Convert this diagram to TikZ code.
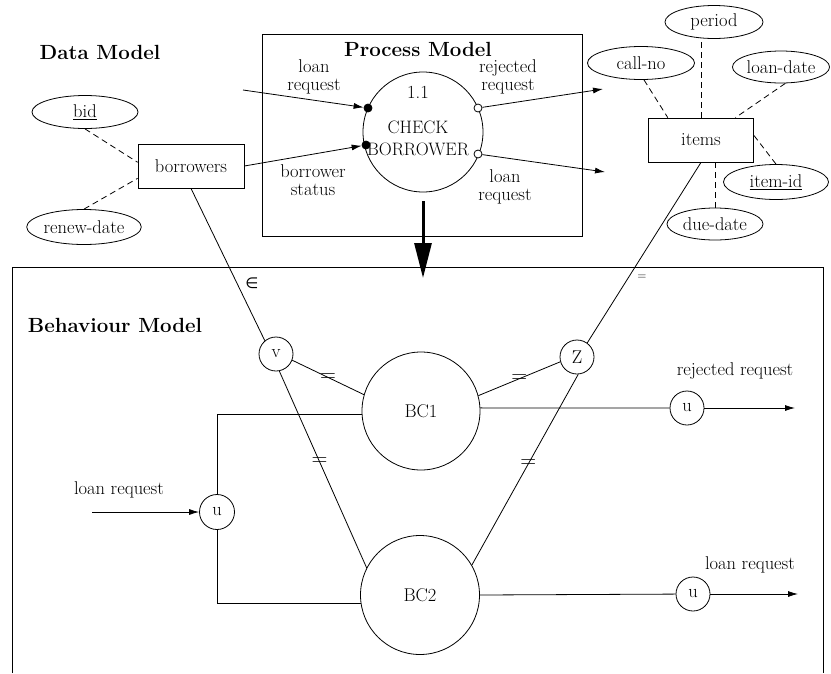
\documentclass[tikz,border=0pt]{standalone}
\usepackage{fontspec}
\newfontfamily\symfnt{DejaVu Sans}
\usetikzlibrary{arrows.meta,shapes.geometric,calc}
\begin{document}
\begin{tikzpicture}[x=1pt,y=-1pt, line width=0.8pt,
  every node/.style={font=\fontsize{18.5}{17.5}\selectfont, inner sep=0pt},
  title/.style={font=\fontsize{20.5}{24}\selectfont\bfseries},
  ent/.style={draw, rectangle, minimum width=106pt, minimum height=44pt},
  attr/.style={draw, ellipse},
  bcirc/.style={draw, circle},
  small/.style={draw, circle, minimum size=34pt},
  dotf/.style={draw, circle, fill=black, minimum size=8pt},
  doto/.style={draw, circle, fill=white, minimum size=8pt},
  arr/.style={-{Latex[length=10pt,width=6pt]}},
  attrline/.style={dash pattern=on 6pt off 4pt},
  eqt/.style={font=\fontsize{22}{22}\selectfont}]
\useasboundingbox (0,0) rectangle (831,673);

% frames
\draw (262,34) rectangle (582,236);
\draw (12,673) -- (12,267) -- (823,267) -- (823,673);

% titles
\node[title] (dm) at (100,52) {Data Model};
\node[title] (pm) at (418,49) {Process Model};
\node[title] (bm) at (115,325) {Behaviour Model};

% data model, left
\node[ent] (borrowers) at (191,166) {borrowers};
\node[attr, minimum width=106pt, minimum height=33pt] (bid) at (85,112) {\underline{bid}};
\node[attr, minimum width=107pt, minimum height=35pt] (renew) at (84,227) {renew-date};
\draw[attrline] (bid.south) -- (borrowers.176);
\draw[attrline] (renew.north) -- (borrowers.193);

% data model, right
\node[ent, minimum width=105pt] (items) at (701,140) {items};
\node[attr, minimum width=98pt, minimum height=33pt] (period) at (714,22) {period};
\node[attr, minimum width=107pt, minimum height=33pt] (callno) at (641,63) {call-no};
\node[attr, minimum width=97pt, minimum height=32pt] (loandate) at (781,67) {loan-date};
\node[attr, minimum width=105pt, minimum height=35pt] (itemid) at (776,182) {\underline{item-id}};
\node[attr, minimum width=96pt, minimum height=32pt] (duedate) at (715,224) {due-date};
\draw[attrline] (callno.-80) -- (items.146);
\draw[attrline] (items.north) -- (items.north |- period.south);
\draw[attrline] (loandate.-75) -- (items.33);
\draw[attrline] (itemid.north) -- (items.5);
\draw[attrline] (duedate.north) -- (duedate.north |- items.south);

% process model
\node[bcirc, minimum size=120pt] (proc) at (423,132) {};
\node (pnum) at (418,92) {1.1};
\node[align=center, font=\fontsize{18}{22}\selectfont] (pname) at (418,138) {CHECK\\BORROWER};
\node[dotf] (din1) at (368,108) {};
\node[dotf] (din2) at (366,145) {};
\node[doto] (dout1) at (478,108) {};
\node[doto] (dout2) at (478,154) {};
\coordinate (lrin) at (243,90);
\coordinate (rjout) at (603,89);
\coordinate (lrout) at (605,172);
\draw[arr] (lrin) -- (din1);
\draw[arr] (borrowers.east) -- (din2);
\draw[arr] (dout1) -- (rjout);
\draw[arr] (dout2) -- (lrout);
\node[align=center] (l1) at (314,77) {loan\\request};
\node[align=center] (l2) at (313,180) {borrower\\status};
\node[align=center] (l3) at (508,77) {rejected\\request};
\node[align=center] (l4) at (505,187) {loan\\request};

% big arrow
\coordinate (bigtip) at (423,278);
\draw[line width=3pt, -{Triangle[length=35pt,width=17pt]}] ($(proc.south)+(0,9)$) -- (bigtip);

% behaviour model
\node[small] (v) at (276,354) {v};
\node[small] (z) at (577,357) {Z};
\node[bcirc, minimum size=118pt] (bc1) at (421,411) {BC1};
\node[bcirc, minimum size=119pt] (bc2) at (420,595) {BC2};
\node[small, minimum size=35pt] (u1) at (217,512) {u};
\node[small] (u2) at (687,408) {u};
\node[small] (u3) at (693,594) {u};

\draw (borrowers.south) -- (v.130);
\node[font=\fontsize{15}{15}\symfnt] (inl) at (252,283) {∈};
\draw (items.south) -- (z.54);
\node[font=\fontsize{12}{12}\selectfont] (eq0) at (642,277) {=};

\draw (v.-21) -- node[eqt]{=} (bc1.164);
\draw (v.-79) -- node[eqt, pos=0.46]{=} (bc2.153);
\draw (z.196) -- node[eqt]{=} (bc1.15);
\draw (z.-86) -- node[eqt, pos=0.47]{=} (bc2.30);

\coordinate (lrin2) at (92,512);
\draw[arr] (lrin2) -- (u1);
\draw (u1.north) |- (bc1.183);
\draw (u1.south) |- (bc2.188);
\draw (bc1.3) -- (u2);
\coordinate (rjend) at (795,408);
\draw[arr] (u2) -- (rjend);
\draw (bc2.east) -- (u3);
\coordinate (lrend) at (798,594);
\draw[arr] (u3) -- (lrend);

\node (lrl) at (119,490) {loan request};
\node (rjl) at (735,371) {rejected request};
\node (lrl2) at (750,565) {loan request};
\end{tikzpicture}
\end{document}
